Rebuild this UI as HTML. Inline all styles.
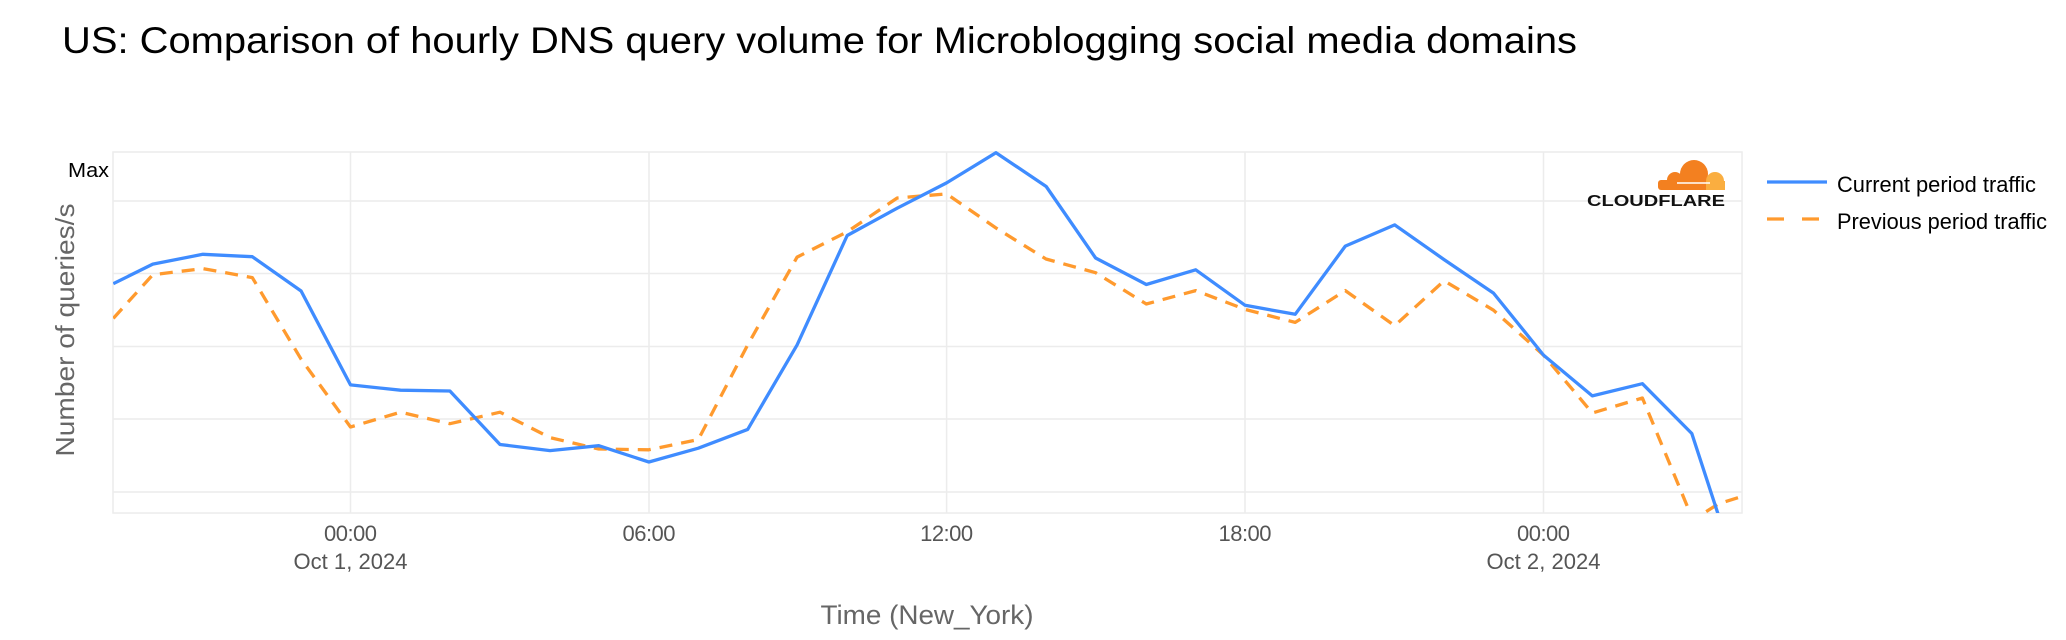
<!DOCTYPE html>
<html><head><meta charset="utf-8"><style>
html,body{margin:0;padding:0;background:#fff;}
svg{display:block;font-family:"Liberation Sans",Arial,sans-serif;}
</style></head><body>
<svg width="2066" height="640" viewBox="0 0 2066 640" xmlns="http://www.w3.org/2000/svg">
<text x="62" y="53" font-size="37" fill="#000" textLength="1515" lengthAdjust="spacingAndGlyphs">US: Comparison of hourly DNS query volume for Microblogging social media domains</text>
<g stroke="#ececec" stroke-width="1.5" fill="none">
<rect x="113" y="152" width="1629" height="361"/>
<line x1="113" y1="201" x2="1742" y2="201"/>
<line x1="113" y1="273.5" x2="1742" y2="273.5"/>
<line x1="113" y1="346.5" x2="1742" y2="346.5"/>
<line x1="113" y1="419" x2="1742" y2="419"/>
<line x1="113" y1="492" x2="1742" y2="492"/>
<line x1="350.5" y1="152" x2="350.5" y2="513"/>
<line x1="649" y1="152" x2="649" y2="513"/>
<line x1="946.6" y1="152" x2="946.6" y2="513"/>
<line x1="1245" y1="152" x2="1245" y2="513"/>
<line x1="1543.5" y1="152" x2="1543.5" y2="513"/>
</g>
<text x="68" y="177" font-size="20" fill="#000" textLength="41" lengthAdjust="spacingAndGlyphs">Max</text>
<text transform="translate(74,330) rotate(-90)" font-size="26" fill="#666" text-anchor="middle" textLength="253" lengthAdjust="spacingAndGlyphs">Number of queries/s</text>
<g font-size="22" fill="#555" text-anchor="middle" lengthAdjust="spacingAndGlyphs">
<text x="350.5" y="541" textLength="53">00:00</text>
<text x="350.5" y="569" textLength="114">Oct 1, 2024</text>
<text x="649" y="541" textLength="53">06:00</text>
<text x="946.6" y="541" textLength="53">12:00</text>
<text x="1245" y="541" textLength="53">18:00</text>
<text x="1543.5" y="541" textLength="53">00:00</text>
<text x="1543.5" y="569" textLength="114">Oct 2, 2024</text>
</g>
<text x="927" y="624" font-size="27" fill="#666" text-anchor="middle" textLength="213" lengthAdjust="spacingAndGlyphs">Time (New_York)</text>
<defs><clipPath id="c"><rect x="113" y="140" width="1629" height="373"/></clipPath></defs>
<g clip-path="url(#c)" fill="none" stroke-width="3.3" stroke-linejoin="round">
<polyline stroke="#ff9a2e" stroke-dasharray="13,9" points="113.3,318.4 152.8,274.7 202.9,268.6 252.3,277.6 301.1,359.2 350.5,427 400.5,412.2 449.9,423.7 500,412.2 550,437.6 598.8,449 648.9,449.8 698.3,439.6 747.7,344.9 797.1,257.1 847.2,231.8 897.2,198 946.6,193.9 996,228 1046,259 1095.6,272.7 1146.3,304 1195.7,290.6 1245.1,309.4 1295.2,322.4 1345.3,290.6 1394.7,325.7 1444.1,280.8 1493.5,310.2 1543.5,355.1 1592.3,413 1642.4,398 1693,520 1718.1,504 1740,497"/>
<polyline stroke="#3f8cff" points="113.3,283.7 152.8,264.1 202.9,254.3 252.3,256.7 301.1,291 350.5,384.9 400.5,390.2 449.9,391 500,444.5 550,450.6 598.8,445.7 648.9,462 698.3,448.2 747.7,429.4 797.1,344.9 847.2,235.5 897.2,208.2 946.6,182.9 996,152.7 1046.2,186.5 1095.6,258 1146.3,284.5 1195.7,269.8 1245.1,305.3 1295.2,314.3 1345.3,246.1 1394.7,224.9 1444.1,259.6 1493.5,293.1 1543.5,355.1 1592.3,395.9 1642.4,383.7 1691.8,433.5 1720,520"/>
</g>
<g>
<circle cx="1694" cy="174" r="14" fill="#f38020"/>
<circle cx="1675" cy="180" r="8" fill="#f38020"/>
<rect x="1658" y="180" width="52" height="10" rx="3" fill="#f38020"/>
<circle cx="1715" cy="181" r="9" fill="#faae40"/>
<rect x="1706" y="181" width="19" height="9" fill="#faae40"/>
<line x1="1677" y1="183" x2="1710" y2="183" stroke="#fff" stroke-width="1.5"/>
<text x="1587" y="206" font-size="16" font-weight="bold" fill="#111" textLength="138" lengthAdjust="spacingAndGlyphs">CLOUDFLARE</text>
</g>
<line x1="1767" y1="182" x2="1827" y2="182" stroke="#3f8cff" stroke-width="3.3"/>
<text x="1837" y="192" font-size="22" fill="#000" textLength="199" lengthAdjust="spacingAndGlyphs">Current period traffic</text>
<line x1="1767" y1="219" x2="1827" y2="219" stroke="#ff9a2e" stroke-width="3.3" stroke-dasharray="17,18"/>
<text x="1837" y="229" font-size="22" fill="#000" textLength="210" lengthAdjust="spacingAndGlyphs">Previous period traffic</text>
</svg>
</body></html>
